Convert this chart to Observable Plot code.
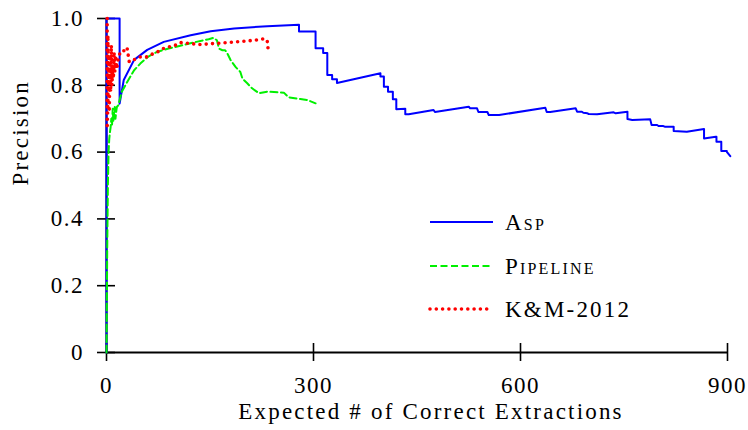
<!DOCTYPE html>
<html>
<head>
<meta charset="utf-8">
<script src="https://cdn.jsdelivr.net/npm/d3@7"></script>
<script src="https://cdn.jsdelivr.net/npm/@observablehq/plot@0.6"></script>
<style>
  html, body { margin: 0; padding: 0; background: white; }
  #wrap { position: relative; width: 748px; height: 430px; }
  #legend { position: absolute; left: 0; top: 0; }
</style>
</head>
<body>
<div id="wrap"></div>
<script>
// ---- data ----
const seriesNames = ["Asp", "Pipeline", "K&M-2012"];
const seriesColors = ["#0000ff", "#00f000", "#ff0000"];

const xTicks = [0, 300, 600, 900];
const xTickLabels = ["0", "300", "600", "900"];
const yTicks = [0, 0.2, 0.4, 0.6, 0.8, 1.0];
const yTickLabels = ["0", "0.2", "0.4", "0.6", "0.8", "1.0"];

const xLabel = "Expected # of Correct Extractions";
const yLabel = "Precision";

const aspX = [0, 0, 19, 19, 25, 40, 59, 83, 122, 151, 185, 233, 279, 279, 303, 303, 314, 314, 320, 320, 327, 327, 334, 334, 397, 397, 402, 402, 408, 408, 415, 415, 420, 420, 433, 433, 438, 474, 476, 525, 527, 537, 539, 552, 554, 569, 636, 638, 643, 680, 682, 689, 691, 697, 699, 711, 735, 738, 755, 755, 762, 788, 790, 798, 800, 807, 809, 817, 822, 822, 841, 866, 866, 883, 884, 884, 891, 891, 899, 899, 904];
const aspY = [0, 1.0, 1.0, 0.745, 0.816, 0.876, 0.906, 0.93, 0.95, 0.962, 0.97, 0.977, 0.981, 0.961, 0.961, 0.911, 0.911, 0.897, 0.897, 0.831, 0.831, 0.818, 0.818, 0.807, 0.836, 0.826, 0.826, 0.796, 0.796, 0.781, 0.781, 0.758, 0.758, 0.728, 0.73, 0.713, 0.713, 0.726, 0.72, 0.736, 0.731, 0.731, 0.72, 0.72, 0.711, 0.711, 0.733, 0.72, 0.72, 0.731, 0.721, 0.721, 0.718, 0.716, 0.714, 0.713, 0.719, 0.716, 0.721, 0.699, 0.696, 0.698, 0.681, 0.681, 0.678, 0.678, 0.676, 0.676, 0.676, 0.663, 0.661, 0.669, 0.641, 0.646, 0.646, 0.631, 0.631, 0.603, 0.603, 0.601, 0.588];

const pipeX = [0, 1, 2, 3, 4, 5, 6, 7, 8, 9, 10, 11, 12, 13, 14, 15, 17, 22, 30, 40, 49, 60, 73, 90, 110, 130, 148, 155, 160, 163, 168, 172, 175, 180, 187, 194, 197, 204, 211, 221, 233, 257, 264, 281, 291, 303];
const pipeY = [0, 0.3, 0.5, 0.6, 0.64, 0.66, 0.675, 0.7, 0.68, 0.73, 0.69, 0.72, 0.735, 0.7, 0.72, 0.735, 0.74, 0.78, 0.81, 0.845, 0.865, 0.885, 0.9, 0.91, 0.92, 0.93, 0.938, 0.942, 0.935, 0.91, 0.905, 0.905, 0.896, 0.875, 0.855, 0.84, 0.82, 0.806, 0.791, 0.776, 0.781, 0.778, 0.764, 0.759, 0.756, 0.746];

const kmX = [1, 1, 2, 2, 3, 4, 5, 6, 7, 8, 9, 10, 11, 12, 13, 15, 17, 20, 24, 28, 30, 33, 38, 49, 58, 68, 74, 84, 98, 107, 121, 136, 155, 176, 200, 220, 230, 234, 234];
const kmY = [1.0, 0.67, 0.75, 0.95, 0.8, 0.72, 0.88, 0.78, 0.92, 0.8, 0.86, 0.82, 0.9, 0.84, 0.89, 0.85, 0.88, 0.9, 0.905, 0.9, 0.91, 0.87, 0.875, 0.885, 0.885, 0.895, 0.9, 0.912, 0.918, 0.928, 0.925, 0.922, 0.925, 0.928, 0.932, 0.936, 0.94, 0.928, 0.908];

const asp = aspX.map((x, i) => ({x, y: aspY[i]}));
const pipe = pipeX.map((x, i) => ({x, y: pipeY[i]}));
const km = kmX.map((x, i) => ({x, y: kmY[i]}));

const FONT = "Liberation Serif";
const FS = 23;

const chart = Plot.plot({
  width: 748,
  height: 430,
  marginLeft: 106,
  marginRight: 21,
  marginTop: 18,
  marginBottom: 78,
  x: {domain: [0, 900]},
  y: {domain: [0, 1]},
  style: {fontFamily: FONT, fontSize: FS + "px", color: "black", background: "white", overflow: "visible"},
  marks: [
    Plot.ruleY([0], {stroke: "black", strokeWidth: 2}),
    Plot.ruleX([0], {stroke: "black", strokeWidth: 2}),
    Plot.axisX({ticks: xTicks, tickSize: 18, dy: -9, tickPadding: 15, strokeWidth: 1.6,
      tickFormat: (d) => xTickLabels[xTicks.indexOf(d)], label: null, fontSize: FS}),
    Plot.axisY({ticks: yTicks, tickSize: 18, dx: 9, tickPadding: 13.5, strokeWidth: 1.6,
      tickFormat: (d) => yTickLabels[yTicks.indexOf(d)], label: null, fontSize: FS}),
    Plot.line(asp, {x: "x", y: "y", stroke: seriesColors[0], strokeWidth: 2}),
    Plot.line(pipe, {x: "x", y: "y", stroke: seriesColors[1], strokeWidth: 2, strokeDasharray: "7,3.5"}),
    Plot.line(km, {x: "x", y: "y", stroke: seriesColors[2], strokeWidth: 3.6, strokeDasharray: "0,6.3", strokeLinecap: "round"}),
    Plot.text([xLabel], {text: (d) => d, frameAnchor: "bottom", lineAnchor: "middle", dy: 59, dx: 14, fontSize: FS}),
    Plot.text([yLabel], {text: (d) => d, frameAnchor: "left", lineAnchor: "middle", dx: -86, dy: 0, rotate: -90, fontSize: FS})
  ]
});

// widen the glyph spacing a little to match the reference's wider serif face
chart.querySelectorAll('g[aria-label="x-axis tick label"] text, g[aria-label="y-axis tick label"] text')
  .forEach((t) => t.style.letterSpacing = "1.5px");
chart.querySelectorAll('g[aria-label="text"] text')
  .forEach((t) => t.style.letterSpacing = "2.2px");

const wrap = document.getElementById("wrap");
wrap.appendChild(chart);

// ---- legend overlay ----
const ns = "http://www.w3.org/2000/svg";
const leg = document.createElementNS(ns, "svg");
leg.setAttribute("id", "legend");
leg.setAttribute("width", 748);
leg.setAttribute("height", 430);
const legendRows = [222, 266, 309];
const dashes = [null, "7,3.5", "0,6.3"];
const widths = [2, 2, 3.6];
seriesNames.forEach((name, i) => {
  const ln = document.createElementNS(ns, "line");
  ln.setAttribute("x1", 430); ln.setAttribute("x2", 493);
  ln.setAttribute("y1", legendRows[i]); ln.setAttribute("y2", legendRows[i]);
  ln.setAttribute("stroke", seriesColors[i]);
  ln.setAttribute("stroke-width", widths[i]);
  if (dashes[i]) ln.setAttribute("stroke-dasharray", dashes[i]);
  if (i === 2) ln.setAttribute("stroke-linecap", "round");
  leg.appendChild(ln);
  const t = document.createElementNS(ns, "text");
  t.setAttribute("x", 505);
  t.setAttribute("y", legendRows[i]);
  t.setAttribute("dy", "0.35em");
  t.setAttribute("font-family", FONT);
  t.setAttribute("font-size", FS);
  t.style.letterSpacing = "2.2px";
  if (i < 2) t.setAttribute("font-variant", "small-caps");
  t.textContent = name;
  leg.appendChild(t);
});
wrap.appendChild(leg);
</script>
</body>
</html>
